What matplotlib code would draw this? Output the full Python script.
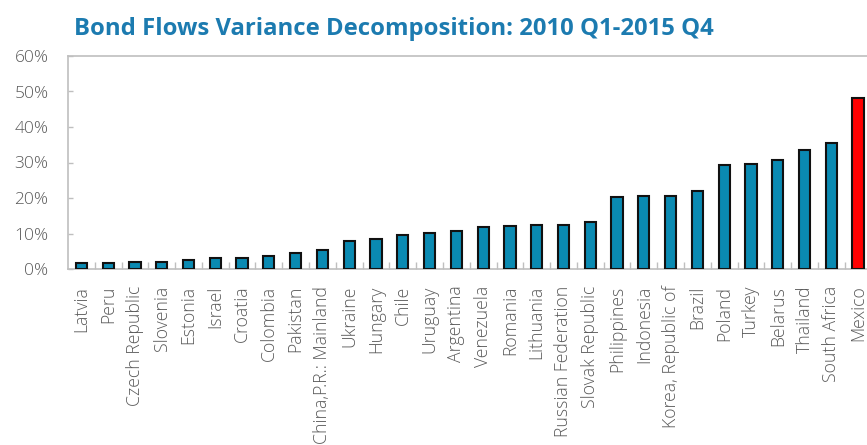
import matplotlib
matplotlib.use("Agg")
import matplotlib.pyplot as plt
from matplotlib.ticker import FixedLocator, FuncFormatter

countries = ["Latvia", "Peru", "Czech Republic", "Slovenia", "Estonia", "Israel",
             "Croatia", "Colombia", "Pakistan", "China,P.R.: Mainland", "Ukraine",
             "Hungary", "Chile", "Uruguay", "Argentina", "Venezuela", "Romania",
             "Lithuania", "Russian Federation", "Slovak Republic", "Philippines",
             "Indonesia", "Korea, Republic of", "Brazil", "Poland", "Turkey",
             "Belarus", "Thailand", "South Africa", "Mexico"]
values = [1.6, 1.6, 1.9, 1.9, 2.4, 3.0, 3.0, 3.7, 4.4, 5.3, 7.8, 8.4, 9.7, 10.2,
          10.6, 11.9, 12.2, 12.5, 12.5, 13.3, 20.3, 20.6, 20.6, 22.1, 29.2, 29.5,
          30.8, 33.6, 35.4, 48.3]
highlight = "Mexico"
title = "Bond Flows Variance Decomposition: 2010 Q1-2015 Q4"

W, H = 867, 445
fig = plt.figure(figsize=(W / 100, H / 100), dpi=100)
left, right, top, bottom = 68, 871.5, 56, 269
ax = fig.add_axes([left / W, 1 - bottom / H, (right - left) / W, (bottom - top) / H])

colors = ["#ff0000" if c == highlight else "#0a8ab2" for c in countries]
x = list(range(len(countries)))
ax.bar(x, [v / 100 for v in values], width=0.42, color=colors,
       edgecolor="#111111", linewidth=1.5, zorder=3)

ax.set_xlim(-0.5, len(countries) - 0.5)
ax.set_ylim(0, 0.6)
ax.set_yticks([i / 10 for i in range(7)])
ax.yaxis.set_major_formatter(FuncFormatter(lambda v, p: f"{v*100:.0f}%"))
ax.set_xticks(x)
ax.set_xticklabels(countries, rotation=90, ha="center", va="top")
ax.xaxis.set_minor_locator(FixedLocator([i + 0.5 for i in range(len(countries) - 1)]))

fam = ["Open Sans", "DejaVu Sans"]
for lab in ax.get_xticklabels():
    lab.set_fontfamily(fam)
    lab.set_fontsize(12.7)
    lab.set_fontweight("light")
    lab.set_color("#5a5a5a")
for lab in ax.get_yticklabels():
    lab.set_fontfamily(fam)
    lab.set_fontsize(12.5)
    lab.set_fontweight("light")
    lab.set_color("#5a5a5a")

ax.tick_params(axis="x", which="major", length=0, pad=12)
ax.tick_params(axis="x", which="minor", direction="in", length=5, color="#bfbfbf", width=1)
ax.tick_params(axis="y", which="major", direction="in", length=3.5, color="#bfbfbf",
               width=1, pad=14)

for s in ["left", "top", "bottom", "right"]:
    ax.spines[s].set_color("#bfbfbf")
    ax.spines[s].set_linewidth(1.2)

fig.text(74 / W, 1 - 35 / H, title, ha="left", va="baseline",
         family=fam, fontweight="bold", fontsize=17.2, color="#1c7bb0")

fig.savefig("out.png", dpi=100)
